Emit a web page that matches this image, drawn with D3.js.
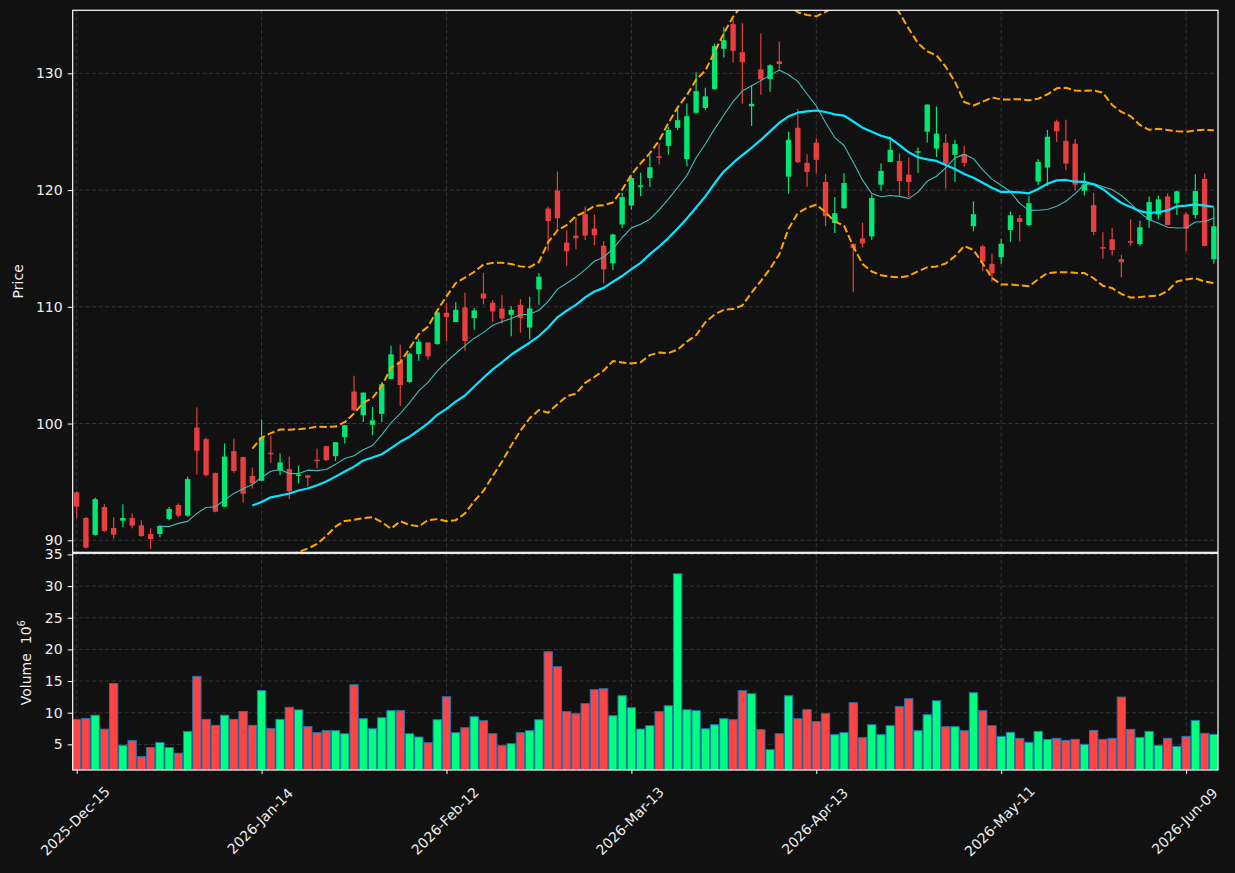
<!DOCTYPE html>
<html>
<head>
<meta charset="utf-8">
<script src="https://cdn.jsdelivr.net/npm/d3@7"></script>
<style>
  html, body { margin: 0; padding: 0; background: #111111; }
  svg { display: block; font-family: "DejaVu Sans", sans-serif; }
</style>
</head>
<body>
<div id="chart"></div>
<script>
// OHLC, one entry per trading day (index 0 = 2025-12-15)
const opens = [94.10, 91.91, 90.46, 92.85, 91.05, 91.68, 91.91, 91.28, 90.54, 90.54,
  91.82, 93.02, 92.11, 99.66, 98.66, 95.75, 92.88, 97.64, 97.12, 95.50,
  95.10, 97.50, 95.98, 96.10, 95.53, 95.56, 96.90, 98.06, 97.21, 98.83,
  102.74, 100.71, 99.89, 100.83, 103.82, 105.33, 103.56, 105.95, 106.95, 106.81,
  109.49, 108.69, 109.94, 109.03, 111.14, 110.35, 109.86, 109.31, 110.17, 108.22,
  111.49, 118.42, 119.97, 115.50, 116.10, 117.94, 116.70, 115.24, 113.72, 117.05,
  118.68, 120.26, 121.03, 122.89, 123.78, 125.33, 122.66, 126.62, 127.03, 128.65,
  132.10, 134.22, 131.81, 127.18, 130.34, 129.51, 131.03, 121.15, 125.34, 122.33,
  124.05, 120.69, 117.18, 118.45, 115.40, 115.86, 116.03, 120.46, 122.41, 122.50,
  121.32, 123.22, 125.00, 123.56, 124.05, 123.02, 123.07, 116.90, 115.17, 113.68,
  114.25, 116.58, 117.59, 117.01, 120.72, 121.93, 125.86, 124.22, 123.97, 119.94,
  118.71, 115.11, 115.78, 114.08, 115.63, 115.37, 117.44, 117.90, 119.45, 118.87,
  117.93, 117.87, 120.95, 114.08];
const highs = [94.20, 92.00, 93.67, 93.08, 91.97, 93.08, 92.31, 91.71, 91.03, 91.28,
  92.85, 93.16, 95.44, 101.37, 98.80, 95.80, 98.29, 98.72, 97.15, 96.24,
  100.34, 98.95, 97.44, 97.18, 96.41, 95.60, 97.86, 98.10, 98.40, 99.86,
  104.10, 102.65, 101.42, 103.56, 106.67, 106.75, 106.07, 107.26, 106.95, 109.69,
  110.31, 110.40, 111.22, 109.89, 112.91, 110.58, 111.00, 110.06, 110.66, 110.86,
  112.89, 118.60, 121.60, 116.53, 117.68, 118.60, 117.91, 115.64, 116.25, 119.77,
  121.17, 121.49, 122.98, 123.98, 125.42, 127.19, 127.42, 130.09, 128.77, 132.56,
  133.94, 134.71, 134.28, 128.94, 133.42, 130.78, 132.73, 125.00, 126.95, 123.07,
  124.43, 121.38, 119.40, 121.44, 115.40, 117.21, 119.63, 122.30, 124.57, 123.16,
  122.76, 123.65, 127.33, 127.16, 124.80, 124.28, 123.79, 119.05, 115.32, 114.54,
  115.83, 118.16, 117.87, 119.48, 122.64, 125.14, 126.03, 126.03, 124.37, 121.49,
  119.77, 116.38, 116.75, 114.46, 117.47, 117.39, 119.45, 119.54, 119.71, 119.97,
  118.10, 121.35, 121.44, 118.48];
const lows = [91.88, 89.30, 90.40, 90.74, 90.14, 91.11, 91.03, 90.31, 89.26, 90.26,
  91.71, 91.97, 92.02, 95.61, 95.47, 92.40, 92.85, 95.78, 93.22, 94.44,
  95.10, 96.67, 95.58, 93.53, 94.87, 94.59, 96.15, 96.80, 96.78, 98.29,
  101.10, 100.14, 99.00, 100.14, 103.80, 101.51, 103.48, 105.38, 105.47, 106.75,
  107.04, 108.69, 106.24, 108.03, 110.20, 108.70, 108.57, 107.48, 107.79, 107.22,
  110.17, 114.76, 116.53, 113.50, 114.93, 115.73, 115.30, 112.01, 113.15, 116.76,
  118.31, 119.48, 120.26, 122.18, 123.04, 125.13, 122.03, 126.56, 126.86, 128.59,
  131.35, 130.92, 127.39, 125.49, 128.16, 128.42, 130.34, 119.68, 122.30, 120.29,
  121.44, 116.90, 116.32, 118.39, 111.24, 115.11, 115.72, 119.97, 122.41, 119.54,
  119.40, 121.49, 124.08, 122.84, 120.11, 120.72, 122.01, 116.47, 113.07, 112.16,
  113.68, 115.57, 115.60, 116.93, 120.43, 120.34, 124.11, 121.70, 119.97, 119.54,
  116.12, 114.11, 114.40, 112.50, 115.26, 115.23, 116.78, 117.47, 116.98, 117.87,
  114.74, 117.56, 115.20, 113.68];
const closes = [92.88, 89.37, 93.53, 90.80, 90.48, 91.91, 91.25, 90.37, 90.11, 91.23,
  92.68, 92.11, 95.24, 97.66, 95.58, 92.45, 97.18, 95.93, 93.99, 94.87,
  98.83, 97.40, 96.67, 94.20, 95.64, 95.36, 96.80, 96.87, 98.40, 99.86,
  101.14, 102.65, 100.28, 103.36, 105.93, 103.30, 105.98, 107.01, 105.76, 109.52,
  109.12, 109.74, 107.07, 109.69, 110.71, 109.60, 109.00, 109.74, 109.05, 109.86,
  112.58, 117.34, 117.59, 114.76, 115.87, 116.10, 116.13, 113.21, 116.19, 119.40,
  121.03, 120.40, 121.95, 122.75, 125.16, 125.99, 126.33, 128.48, 128.03, 132.33,
  132.84, 131.93, 130.95, 127.39, 129.48, 130.69, 130.80, 124.31, 122.39, 121.55,
  122.59, 117.76, 118.02, 120.60, 115.03, 115.43, 119.31, 121.64, 123.45, 120.78,
  120.69, 123.33, 127.33, 124.83, 122.27, 123.94, 122.33, 117.93, 113.88, 112.87,
  115.40, 117.84, 117.27, 118.88, 122.41, 124.57, 125.03, 122.27, 120.46, 120.49,
  116.41, 115.03, 114.86, 113.82, 115.49, 116.81, 118.97, 119.20, 117.01, 119.89,
  116.70, 119.91, 115.20, 116.90];
// volume in millions
const volumes = [8.95, 9.1, 9.6, 7.4, 14.6, 4.85, 5.6, 3.05, 4.5, 5.3,
  4.5, 3.6, 7.05, 15.75, 8.95, 8.0, 9.6, 8.95, 10.2, 8.0,
  13.5, 7.5, 8.95, 10.85, 10.45, 7.8, 6.85, 7.16, 7.16, 6.68,
  14.42, 9.05, 7.47, 9.21, 10.32, 10.32, 6.68, 6.16, 5.26, 8.89,
  12.53, 6.84, 7.63, 9.37, 8.74, 6.68, 4.79, 5.11, 6.84, 7.16,
  8.89, 19.63, 17.26, 10.16, 9.84, 11.42, 13.63, 13.79, 9.53, 12.68,
  10.79, 7.42, 7.95, 10.16, 11.1, 31.95, 10.47, 10.32, 7.47, 8.1,
  9.05, 8.89, 13.47, 13.0, 7.32, 4.16, 6.68, 12.68, 9.05, 10.47,
  8.58, 9.84, 6.53, 6.84, 11.58, 6.05, 8.1, 6.53, 7.95, 10.95,
  12.21, 7.16, 9.68, 11.89, 7.79, 7.79, 7.16, 13.16, 10.32, 7.95,
  6.26, 6.9, 5.95, 5.32, 7.05, 5.79, 5.95, 5.63, 5.79, 5.0,
  7.21, 5.79, 5.95, 12.47, 7.37, 6.1, 7.05, 4.84, 5.95, 4.68,
  6.26, 8.79, 6.74, 6.58];

const tickIdx = [0, 20, 40, 60, 80, 100, 120];
const tickLabels = ["2025-Dec-15", "2026-Jan-14", "2026-Feb-12", "2026-Mar-13",
  "2026-Apr-13", "2026-May-11", "2026-Jun-09"];
const priceTicks = [90, 100, 110, 120, 130];
const volTicks = [5, 10, 15, 20, 25, 30, 35];

const W = 1235, H = 873;
const left = 72.7, right = 1218;
const pTop = 10.3, pBot = 552.3, vTop = 553.3, vBot = 770;

const svg = d3.select("#chart").append("svg")
  .attr("width", W).attr("height", H);
svg.append("rect").attr("width", W).attr("height", H).attr("fill", "#111111");

const n = closes.length;
const x = d3.scaleLinear().domain([-0.43, 123.45]).range([left, right]);
const yP = d3.scaleLinear().domain([88.97, 135.40]).range([pBot, pTop]);
const yV = d3.scaleLinear().domain([0.95, 35.18]).range([vBot, vTop]);
const step = x(1) - x(0);

// rolling stats on closes
function rolling(win, fn) {
  return closes.map((c, i) => i < win - 1 ? null : fn(closes.slice(i - win + 1, i + 1)));
}
const ma10 = rolling(10, d3.mean);
const ma20 = rolling(20, d3.mean);
const sd20 = rolling(20, d3.deviation);
const bbUp = ma20.map((m, i) => m == null ? null : m + 2 * sd20[i]);
const bbLo = ma20.map((m, i) => m == null ? null : m - 2 * sd20[i]);

const defs = svg.append("defs");
defs.append("clipPath").attr("id", "clipP").append("rect")
  .attr("x", left).attr("y", pTop).attr("width", right - left).attr("height", pBot - pTop);
defs.append("clipPath").attr("id", "clipV").append("rect")
  .attr("x", left).attr("y", vTop).attr("width", right - left).attr("height", vBot - vTop);

const gridColor = "#3a3a3a";
const textColor = "#eeeeee";

// grids
function grid(ys, scale, top, bot, clip) {
  const g = svg.append("g").attr("clip-path", clip);
  g.selectAll("line.h").data(ys).join("line")
    .attr("x1", left).attr("x2", right)
    .attr("y1", d => scale(d)).attr("y2", d => scale(d))
    .attr("stroke", gridColor).attr("stroke-width", 0.9).attr("stroke-dasharray", "4,2.5");
  g.selectAll("line.v").data(tickIdx).join("line")
    .attr("x1", d => x(d)).attr("x2", d => x(d))
    .attr("y1", top).attr("y2", bot)
    .attr("stroke", gridColor).attr("stroke-width", 0.9).attr("stroke-dasharray", "4,2.5");
}
grid(priceTicks, yP, pTop, pBot, "url(#clipP)");
grid(volTicks, yV, vTop, vBot, "url(#clipV)");

// candles
const upC = "#02e774", dnC = "#e73f3f";
const idx = d3.range(n);
const cg = svg.append("g").attr("clip-path", "url(#clipP)");
cg.selectAll("line.wick").data(idx).join("line")
  .attr("x1", i => x(i)).attr("x2", i => x(i))
  .attr("y1", i => yP(highs[i])).attr("y2", i => yP(lows[i]))
  .attr("stroke", i => closes[i] >= opens[i] ? upC : dnC)
  .attr("stroke-width", 1.2);
const bw = step * 0.58;
cg.selectAll("rect.body").data(idx).join("rect")
  .attr("x", i => x(i) - bw / 2)
  .attr("width", bw)
  .attr("y", i => yP(Math.max(opens[i], closes[i])))
  .attr("height", i => Math.max(1.5, Math.abs(yP(opens[i]) - yP(closes[i]))))
  .attr("fill", i => closes[i] >= opens[i] ? upC : dnC);

// moving averages and bands
function drawLine(vals, color, width, dash) {
  const line = d3.line()
    .defined(i => vals[i] != null)
    .x(i => x(i)).y(i => yP(vals[i]));
  cg.append("path").datum(idx)
    .attr("d", line)
    .attr("fill", "none")
    .attr("stroke", color)
    .attr("stroke-width", width)
    .attr("stroke-dasharray", dash || null)
    .attr("stroke-linejoin", "round");
}
drawLine(ma10, "#44bdb5", 1.1);
drawLine(ma20, "#00e8ff", 2.2);
drawLine(bbUp, "#ffa500", 2, "7.4,3.2");
drawLine(bbLo, "#ffa500", 2, "7.4,3.2");

// volume
const vg = svg.append("g").attr("clip-path", "url(#clipV)");
const vw = step * 0.9;
vg.selectAll("rect.vol").data(idx).join("rect")
  .attr("x", i => x(i) - vw / 2)
  .attr("width", vw)
  .attr("y", i => yV(volumes[i]))
  .attr("height", i => vBot - yV(volumes[i]))
  .attr("fill", i => closes[i] >= opens[i] ? "#00ff7f" : "#ff4444")
  .attr("stroke", "#1f77b4")
  .attr("stroke-width", 1);

// frames
svg.append("rect").attr("x", left).attr("y", pTop)
  .attr("width", right - left).attr("height", pBot - pTop)
  .attr("fill", "none").attr("stroke", "#ffffff").attr("stroke-width", 1.2);
svg.append("rect").attr("x", left).attr("y", vTop)
  .attr("width", right - left).attr("height", vBot - vTop)
  .attr("fill", "none").attr("stroke", "#ffffff").attr("stroke-width", 1.2);

// axes
function styleAxis(g) {
  g.select(".domain").remove();
  g.selectAll(".tick line").attr("stroke", "#ffffff").attr("stroke-width", 1);
  g.selectAll(".tick text").attr("fill", textColor)
    .style("font-size", "14px").style("font-family", "DejaVu Sans, sans-serif");
}
svg.append("g").attr("transform", `translate(${left},0)`)
  .call(d3.axisLeft(yP).tickValues(priceTicks).tickSize(5).tickPadding(5))
  .call(styleAxis);
svg.append("g").attr("transform", `translate(${left},0)`)
  .call(d3.axisLeft(yV).tickValues(volTicks).tickSize(5).tickPadding(5))
  .call(styleAxis);

svg.append("g").attr("transform", `translate(0,${vBot})`)
  .call(d3.axisBottom(x).tickValues(tickIdx).tickSize(4).tickFormat(""))
  .call(styleAxis);
svg.append("g").selectAll("text").data(tickIdx).join("text")
  .attr("transform", d => `translate(${x(d) - 1.5},821) rotate(-45)`)
  .attr("text-anchor", "middle")
  .attr("dominant-baseline", "central")
  .attr("fill", textColor)
  .style("font-size", "14px")
  .text((d, i) => tickLabels[i]);

// axis titles
svg.append("text")
  .attr("transform", `translate(23,${(pTop + pBot) / 2}) rotate(-90)`)
  .attr("text-anchor", "middle")
  .attr("fill", textColor).style("font-size", "14px")
  .text("Price");
const vt = svg.append("text")
  .attr("transform", `translate(31,${(vTop + vBot) / 2 + 1}) rotate(-90)`)
  .attr("text-anchor", "middle")
  .attr("fill", textColor).style("font-size", "14px");
vt.append("tspan").text("Volume\u00a0\u00a010");
vt.append("tspan").attr("dy", -6).style("font-size", "10px").text("6");
</script>
</body>
</html>
